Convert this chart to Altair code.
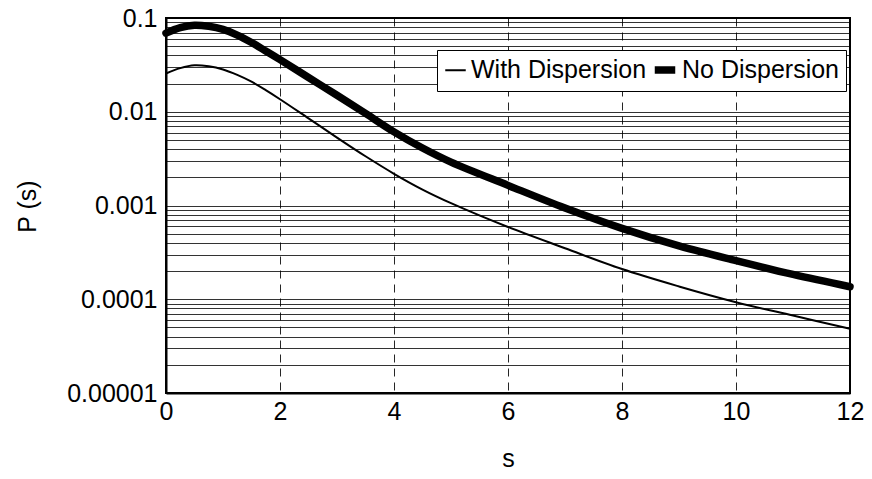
import altair as alt
import pandas as pd

s_vals = [0, 0.25, 0.5, 0.75, 1, 1.25, 1.5, 1.75, 2, 2.5, 3, 3.5, 4, 4.5, 5, 6, 7, 8, 9, 10, 11, 12]
no_disp = [0.069, 0.079, 0.0838, 0.0815, 0.0755, 0.0658, 0.0548, 0.0445, 0.036, 0.0232, 0.015, 0.0096,
           0.0061, 0.0041, 0.0029, 0.00164, 0.00094, 0.00057, 0.00037, 0.000258, 0.000184, 0.000136]
with_disp = [0.0256, 0.0292, 0.0313, 0.0305, 0.0282, 0.0247, 0.0209, 0.0170, 0.0136, 0.0085, 0.0053,
             0.00335, 0.00218, 0.00148, 0.00106, 0.00059, 0.00035, 0.00021, 0.000137, 0.000093,
             0.000067, 0.0000485]
series_names = ["With Dispersion", "No Dispersion"]
x_ticks = [0, 2, 4, 6, 8, 10, 12]
y_grid = [m * 10.0 ** k for k in range(-5, -1) for m in range(1, 10)] + [0.1]

rows = []
for s, v in zip(s_vals, with_disp):
    rows.append({"s": s, "P": v, "series": series_names[0]})
for s, v in zip(s_vals, no_disp):
    rows.append({"s": s, "P": v, "series": series_names[1]})
df = pd.DataFrame(rows)

label_expr = ("abs(log(datum.value)/LN10 - round(log(datum.value)/LN10)) < 0.001 "
              "? format(datum.value, '.5~f') : ''")

chart = alt.Chart(df).mark_line(color="black", strokeCap="round", interpolate="catmull-rom").encode(
    x=alt.X("s:Q", scale=alt.Scale(domain=[0, 12], nice=False),
            axis=alt.Axis(values=x_ticks, title="s", grid=True, gridDash=[8, 6], gridColor="black",
                          gridWidth=1, gridOpacity=0.85, ticks=False, labelPadding=6,
                          labelFlush=False, titleY=73, titleBaseline="alphabetic")),
    y=alt.Y("P:Q", scale=alt.Scale(type="log", domain=[0.00001, 0.1], nice=False),
            axis=alt.Axis(values=y_grid, labelExpr=label_expr, title="P (s)", grid=True,
                          gridColor="black", gridWidth=1, gridOpacity=0.8, ticks=False,
                          labelPadding=9, labelFlush=False, titleX=-139, titleY=188,
                          titleBaseline="middle", titleAlign="center")),
    strokeWidth=alt.StrokeWidth("series:N",
                                scale=alt.Scale(domain=series_names, range=[2, 7.5]),
                                legend=alt.Legend(title=None, orient="none", legendX=271, legendY=32,
                                                  direction="horizontal", symbolType="stroke",
                                                  symbolStrokeColor="black", symbolSize=420,
                                                  labelFontSize=25, labelOffset=3, columnPadding=-8,
                                                  labelLimit=400,
                                                  strokeColor="black", fillColor="white", padding=6,
                                                  labelColor="black")),
    order=alt.Order("series:N"),
).properties(
    width=684, height=375,
    autosize=alt.AutoSizeParams(type="none"),
    padding={"left": 158, "top": 10, "right": 14, "bottom": 74},
).configure(font="Liberation Sans").configure_axis(
    labelFontSize=25, titleFontSize=25, labelColor="black", titleColor="black",
    titleFontWeight="normal", domainColor="black", domainWidth=2,
).configure_view(stroke="black", strokeWidth=2)

chart.save("out.html", embed_options={"renderer": "svg", "actions": False})
